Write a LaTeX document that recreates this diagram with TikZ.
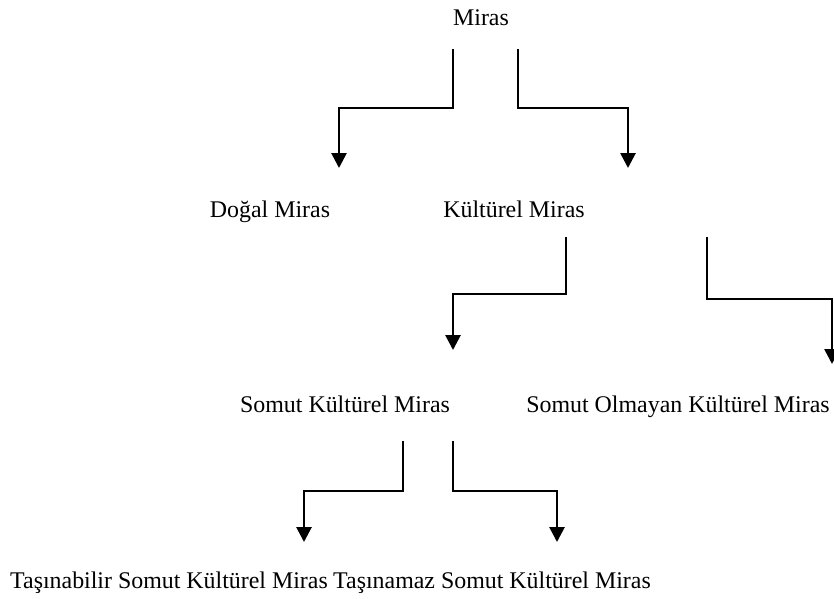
\documentclass[tikz,border=0pt]{standalone}
\usepackage{fontspec}
\setmainfont{Liberation Serif}
\usepackage{tikz}
\usetikzlibrary{calc,arrows.meta}

\begin{document}
\begin{tikzpicture}[x=1pt,y=-1pt,
  lbl/.style={anchor=base,inner sep=0pt,font=\fontsize{23.9}{28}\selectfont},
  lnk/.style={line width=2.7pt,-{Triangle[width=15pt,length=15pt]}}]
\useasboundingbox (0,0) rectangle (834,598);
  \node (m) at (481,25) [lbl] {Miras};
  \node (dm) at (270,217) [lbl] {Doğal Miras};
  \node (km) at (514,217) [lbl] {Kültürel Miras};
  \node (skm) at (345,412) [lbl] {Somut Kültürel Miras};
  \node (sokm) at (678,412) [lbl] {Somut Olmayan Kültürel Miras};
  \node (tskm) at (169,588) [lbl] {Taşınabilir Somut Kültürel Miras};
  \node (tnskm) at (492,588) [lbl] {Taşınamaz Somut Kültürel Miras};
  \draw [lnk] ($(m.base)+(-28,24)$) -- ++(0,59) -| ($(dm.base)+(69,-49)$);
  \draw [lnk] ($(m.base)+(37,24)$) -- ++(0,59) -| ($(km.base)+(114,-49)$);
  \draw [lnk] ($(km.base)+(52,20)$) -- ++(0,57) -| ($(skm.base)+(108,-62)$);
  \draw [lnk] ($(km.base)+(193,20)$) -- ++(0,62) -| ($(sokm.base)+(154,-48)$);
  \draw [lnk] ($(skm.base)+(58,29)$) -- ++(0,50) -| ($(tskm.base)+(135,-46)$);
  \draw [lnk] ($(skm.base)+(108,29)$) -- ++(0,50) -| ($(tnskm.base)+(65,-46)$);
\end{tikzpicture}
\end{document}
